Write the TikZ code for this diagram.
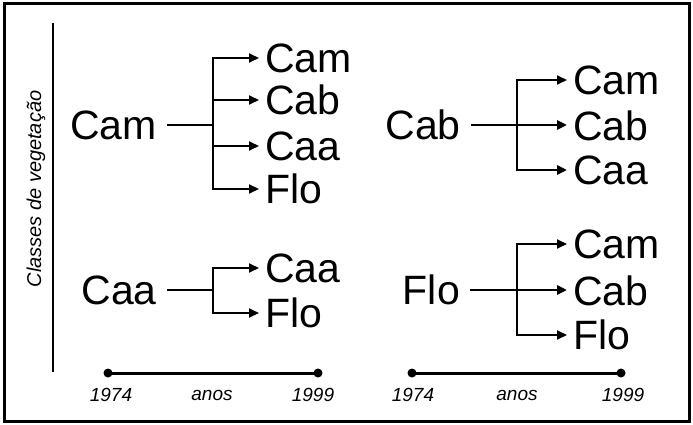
\documentclass[tikz,border=0pt]{standalone}
\usepackage{fontspec}
\setmainfont{Liberation Sans}
\usetikzlibrary{arrows.meta}

\tikzset{
  big/.style={font=\fontsize{41}{47}\selectfont, inner sep=0pt},
  src/.style={big, anchor=east},
  dst/.style={big, anchor=west},
  trunk/.style={line width=2.8pt, shorten <=10pt},
  branch/.style={line width=1.8pt},
  tip/.style={-{Triangle[length=10pt,width=9pt]}, shorten >=6pt},
  yearlbl/.style={font=\fontsize{19}{22}\selectfont\itshape, inner sep=0pt},
  dot/.style={circle, fill=black, inner sep=0pt, minimum size=9pt},
  timeline/.style={line width=3pt}
}

\begin{document}
\begin{tikzpicture}[x=1pt,y=-1pt]
  \useasboundingbox (0,0) rectangle (693,425);
  % frame
  \draw[line width=3pt] (4,4) rectangle (689,421);

  % vertical axis and its label
  \coordinate (axtop) at (53,23);
  \coordinate (axbot) at (53,372);
  \draw[line width=2.8pt] (axtop) -- (axbot);
  \node[rotate=90, font=\fontsize{20}{22}\selectfont\itshape, inner sep=0pt]
    (ylabel) at (36,189) {Classes de vegetação};

  % ---- Cam ----
  \node[src] (camS) at (157,125) {Cam};
  \coordinate (jA) at (213,125);
  \node[dst] (camA) at (265,58) {Cam};
  \node[dst] (cabA) at (265,100) {Cab};
  \node[dst] (caaA) at (265,146) {Caa};
  \node[dst] (floA) at (265,189) {Flo};
  \draw[trunk] (camS.east) -- (jA);
  \draw[branch,tip] (jA) |- (camA.west);
  \draw[branch,tip] (jA) |- (cabA.west);
  \draw[branch,tip] (jA) |- (caaA.west);
  \draw[branch,tip] (jA) |- (floA.west);

  % ---- Cab ----
  \node[src] (cabS) at (461,125) {Cab};
  \coordinate (jB) at (517,125);
  \node[dst] (camB) at (573,80) {Cam};
  \node[dst] (cabB) at (573,126) {Cab};
  \node[dst] (caaB) at (573,170) {Caa};
  \draw[trunk,tip] (cabS.east) -- (cabB.west |- cabS.east);
  \draw[branch,tip] (jB) |- (camB.west);
  \draw[trunk,shorten <=0pt,tip] (jB) |- (caaB.west);

  % ---- Caa ----
  \node[src] (caaS) at (157,290) {Caa};
  \coordinate (jC) at (213,290);
  \node[dst] (caaC) at (265,268) {Caa};
  \node[dst] (floC) at (265,313) {Flo};
  \draw[trunk] (caaS.east) -- (jC);
  \draw[branch,tip] (jC) |- (caaC.west);
  \draw[branch,tip] (jC) |- (floC.west);

  % ---- Flo ----
  \node[src] (floS) at (460,290) {Flo};
  \coordinate (jD) at (517,290);
  \node[dst] (camD) at (573,244) {Cam};
  \node[dst] (cabD) at (573,291) {Cab};
  \node[dst] (floD) at (573,335) {Flo};
  \draw[trunk,tip] (floS.east) -- (cabD.west |- floS.east);
  \draw[branch,tip] (jD) |- (camD.west);
  \draw[branch,tip] (jD) |- (floD.west);

  % ---- time axes ----
  \node[dot] (tL1) at (108,373) {};
  \node[dot] (tL2) at (318,373) {};
  \draw[timeline] (tL1.center) -- (tL2.center);
  \node[yearlbl] (yL1) at (111,395) {1974};
  \node[yearlbl] (yL0) at (212,395) {anos};
  \node[yearlbl] (yL2) at (313,395) {1999};

  \node[dot] (tR1) at (412,373) {};
  \node[dot] (tR2) at (621,373) {};
  \draw[timeline] (tR1.center) -- (tR2.center);
  \node[yearlbl] (yR1) at (413,395) {1974};
  \node[yearlbl] (yR0) at (517,395) {anos};
  \node[yearlbl] (yR2) at (623,395) {1999};
\end{tikzpicture}
\end{document}
